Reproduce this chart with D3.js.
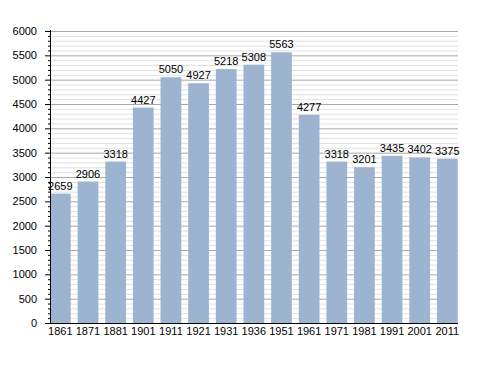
<!DOCTYPE html>
<html>
<head>
<meta charset="utf-8">
<script src="https://cdn.jsdelivr.net/npm/d3@7"></script>
<style>
  body { margin: 0; background: #fff; }
  text { font-family: "Liberation Sans", Arial, sans-serif; }
</style>
</head>
<body>
<svg width="488" height="373"></svg>
<script>
const years = ['1861','1871','1881','1901','1911','1921','1931','1936','1951','1961','1971','1981','1991','2001','2011'];
const population = [2659, 2906, 3318, 4427, 5050, 4927, 5218, 5308, 5563, 4277, 3318, 3201, 3435, 3402, 3375];
const yTicks = [0, 500, 1000, 1500, 2000, 2500, 3000, 3500, 4000, 4500, 5000, 5500, 6000];

const svg = d3.select('svg');
const plotLeft = 50, plotRight = 458, plotTop = 31, plotBottom = 323;

const x = d3.scaleBand().domain(years).range([plotLeft, 457.7]).paddingInner(0.25).paddingOuter(0);
const y = d3.scaleLinear().domain([0, 6000]).range([plotBottom, plotTop]);

const minor = d3.range(0, 6001, 100).filter(v => v % 500 !== 0);

// gridlines
svg.append('g').selectAll('line').data(minor).enter().append('line')
  .attr('x1', plotLeft).attr('x2', plotRight)
  .attr('y1', d => y(d) + 0.5).attr('y2', d => y(d) + 0.5)
  .attr('stroke', '#e0e0e0').attr('stroke-width', 1);
svg.append('g').selectAll('line').data(yTicks.slice(1)).enter().append('line')
  .attr('x1', plotLeft).attr('x2', plotRight)
  .attr('y1', d => y(d) + 0.5).attr('y2', d => y(d) + 0.5)
  .attr('stroke', '#a8a8a8').attr('stroke-width', 1);

// bars
svg.append('g').selectAll('rect').data(population).enter().append('rect')
  .attr('x', (d, i) => x(years[i]))
  .attr('width', x.bandwidth())
  .attr('y', d => y(d))
  .attr('height', d => plotBottom - y(d))
  .attr('fill', '#9cb4cf');

// value labels
svg.append('g').selectAll('text').data(population).enter().append('text')
  .attr('x', (d, i) => x(years[i]) + x.bandwidth() / 2)
  .attr('y', d => y(d) - 4)
  .attr('text-anchor', 'middle')
  .attr('font-size', 11)
  .attr('fill', '#000')
  .text(d => d);

// y axis
const yAxis = svg.append('g');
yAxis.append('line').attr('x1', plotLeft + 0.5).attr('x2', plotLeft + 0.5)
  .attr('y1', plotTop - 1).attr('y2', plotBottom).attr('stroke', '#000');
yAxis.selectAll('.minor').data(minor).enter().append('line')
  .attr('x1', plotLeft - 2).attr('x2', plotLeft)
  .attr('y1', d => y(d) + 0.5).attr('y2', d => y(d) + 0.5)
  .attr('stroke', '#000');
yAxis.selectAll('.major').data(yTicks).enter().append('line')
  .attr('x1', plotLeft - 5).attr('x2', plotLeft)
  .attr('y1', d => y(d) + 0.5).attr('y2', d => y(d) + 0.5)
  .attr('stroke', '#000');
yAxis.selectAll('text').data(yTicks).enter().append('text')
  .attr('x', 37).attr('y', d => y(d) + 4)
  .attr('text-anchor', 'end')
  .attr('font-size', 11)
  .text(d => d);

// x axis
svg.append('line').attr('x1', plotLeft).attr('x2', plotRight)
  .attr('y1', plotBottom + 0.5).attr('y2', plotBottom + 0.5).attr('stroke', '#000');
svg.append('g').selectAll('text').data(years).enter().append('text')
  .attr('x', d => x(d) + x.bandwidth() / 2)
  .attr('y', 335)
  .attr('text-anchor', 'middle')
  .attr('font-size', 11)
  .text(d => d);
</script>
</body>
</html>
